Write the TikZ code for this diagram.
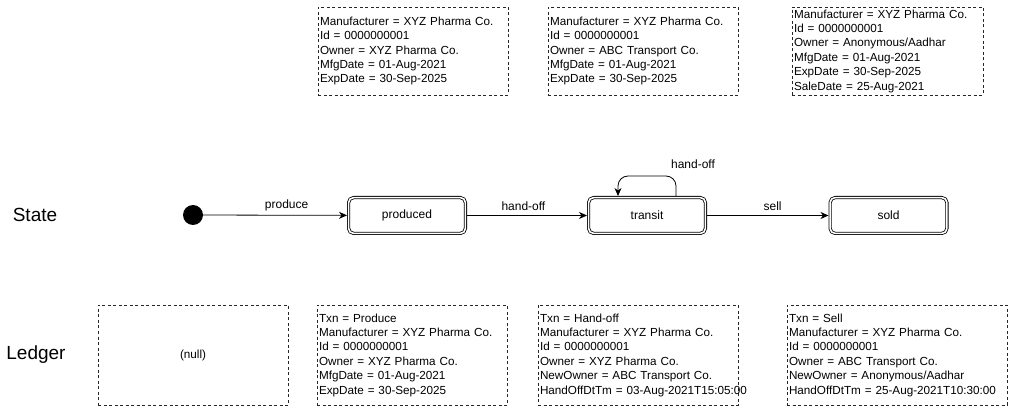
\documentclass[tikz,border=0pt]{standalone}
\usepackage{fontspec}
\setmainfont{Liberation Sans}
\usetikzlibrary{arrows.meta}
\begin{document}
\begin{tikzpicture}[x=1pt,y=-1pt,
  dbox/.style={draw=black!85, line width=0.7pt, dash pattern=on 3pt off 2.5pt,
    inner xsep=2pt, inner ysep=0pt, align=left, font=\fontsize{11.7}{14.4}\selectfont,
    minimum height=88},
  lbox/.style={dbox, minimum height=100},
  statebox/.style={draw, line width=0.8pt, double, double distance=1.6pt,
    rounded corners=5pt, minimum width=116.8, minimum height=35.8, outer sep=1.6pt,
    font=\fontsize{12}{14.4}\selectfont},
  lbl/.style={font=\fontsize{12}{14.4}\selectfont, inner sep=1pt},
  rowlbl/.style={font=\fontsize{19}{22}\selectfont},
  arr/.style={line width=0.8pt, -{Stealth[length=8pt,width=7pt,inset=2.5pt]}}
]
\useasboundingbox (0,0) rectangle (1019,411);

% top state boxes
\node[dbox, text width=186] (sA) at (413,51) {Manufacturer = XYZ Pharma Co.\\Id = 0000000001\\Owner = XYZ Pharma Co.\\MfgDate = 01-Aug-2021\\ExpDate = 30-Sep-2025};
\node[dbox, text width=186] (sB) at (643,51) {Manufacturer = XYZ Pharma Co.\\Id = 0000000001\\Owner = ABC Transport Co.\\MfgDate = 01-Aug-2021\\ExpDate = 30-Sep-2025};
\node[dbox, text width=187] (sC) at (887.5,51) {Manufacturer = XYZ Pharma Co.\\Id = 0000000001\\Owner = Anonymous/Aadhar\\MfgDate = 01-Aug-2021\\ExpDate = 30-Sep-2025\\SaleDate = 25-Aug-2021};

% row labels
\node[rowlbl] (stl) at (35,215) {State};
\node[rowlbl] (ldl) at (36,355) {Ledger};

% state machine
\node[circle, fill=black, minimum size=20, inner sep=0pt] (init) at (193,215) {};
\node[statebox] (produced) at (407,215.5) {produced};
\node[statebox] (transit) at (647,215.5) {transit};
\node[statebox] (sold) at (888.5,215.5) {sold};

\draw[arr] (init) -- node[lbl, above=3pt, pos=0.58] {produce} (produced);
\draw[arr] (produced) -- node[lbl, above=3pt, pos=0.47] {hand-off} (transit);
\draw[arr] (transit) -- node[lbl, above=3pt, pos=0.54] {sell} (sold);
\draw[arr, rounded corners=10pt] ([xshift=29]transit.north) -- ++(0,-20) -- ++(-58,0) -- ([xshift=-29]transit.north);
\node[lbl] (loopl) at (693,164) {hand-off};

% ledger boxes
\node[lbox, text width=186, align=center] (lN) at (193,355) {(null)};
\node[lbox, text width=186] (lP) at (412,355) {Txn = Produce\\Manufacturer = XYZ Pharma Co.\\Id = 0000000001\\Owner = XYZ Pharma Co.\\MfgDate = 01-Aug-2021\\ExpDate = 30-Sep-2025};
\node[lbox, text width=196] (lH) at (638,355) {Txn = Hand-off\\Manufacturer = XYZ Pharma Co.\\Id = 0000000001\\Owner = XYZ Pharma Co.\\NewOwner = ABC Transport Co.\\\mbox{HandOffDtTm = 03-Aug-2021T15:05:00}};
\node[lbox, text width=216] (lS) at (897,355) {Txn = Sell\\Manufacturer = XYZ Pharma Co.\\Id = 0000000001\\Owner = ABC Transport Co.\\NewOwner = Anonymous/Aadhar\\\mbox{HandOffDtTm = 25-Aug-2021T10:30:00}};
\end{tikzpicture}
\end{document}
